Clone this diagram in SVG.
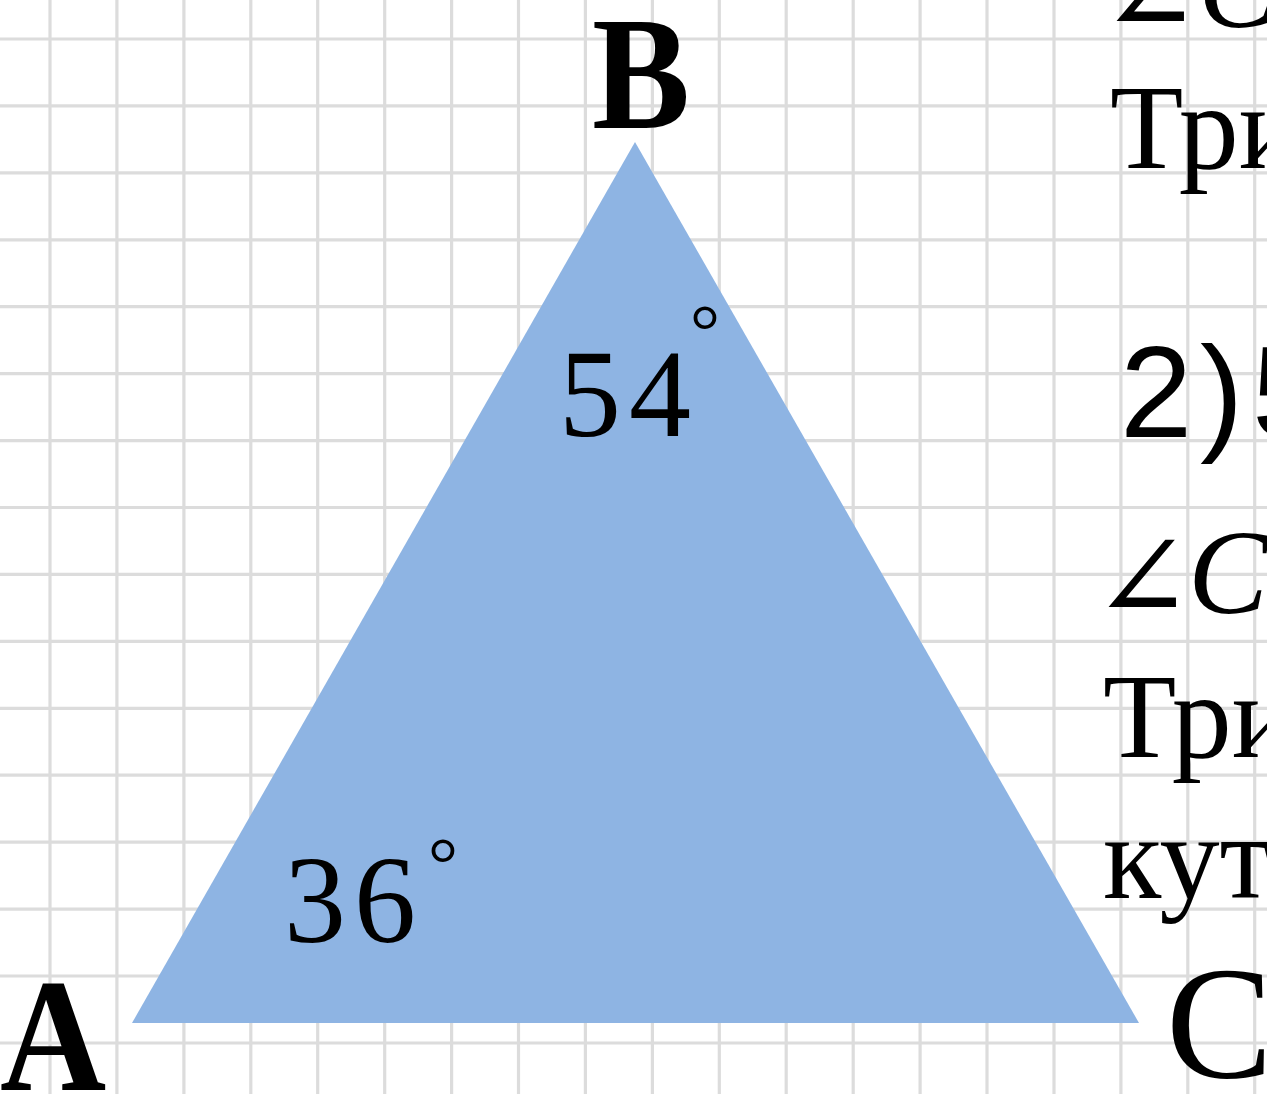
<svg xmlns="http://www.w3.org/2000/svg" width="1267" height="1094" viewBox="0 0 1267 1094">
<style>
.grid line{stroke:#dcdcdc;stroke-width:3.2}
.serif{font-family:"Liberation Serif","DejaVu Serif",serif;fill:#000}
.vert{font-size:160px}
.ang{font-size:124px;letter-spacing:8px}
.deg{font-size:75px}
.txt{font-size:120px}
.sans{font-family:"Liberation Sans","DejaVu Sans",sans-serif;fill:#000}
</style>
<rect width="1267" height="1094" fill="#ffffff"/>
<g class="grid" id="grid">
<line x1="50" y1="0" x2="50" y2="1094"/>
<line x1="116.9" y1="0" x2="116.9" y2="1094"/>
<line x1="183.9" y1="0" x2="183.9" y2="1094"/>
<line x1="250.8" y1="0" x2="250.8" y2="1094"/>
<line x1="317.7" y1="0" x2="317.7" y2="1094"/>
<line x1="384.7" y1="0" x2="384.7" y2="1094"/>
<line x1="451.6" y1="0" x2="451.6" y2="1094"/>
<line x1="518.5" y1="0" x2="518.5" y2="1094"/>
<line x1="585.4" y1="0" x2="585.4" y2="1094"/>
<line x1="652.4" y1="0" x2="652.4" y2="1094"/>
<line x1="719.3" y1="0" x2="719.3" y2="1094"/>
<line x1="786.2" y1="0" x2="786.2" y2="1094"/>
<line x1="853.2" y1="0" x2="853.2" y2="1094"/>
<line x1="920.1" y1="0" x2="920.1" y2="1094"/>
<line x1="987" y1="0" x2="987" y2="1094"/>
<line x1="1054" y1="0" x2="1054" y2="1094"/>
<line x1="1120.9" y1="0" x2="1120.9" y2="1094"/>
<line x1="1187.8" y1="0" x2="1187.8" y2="1094"/>
<line x1="1254.7" y1="0" x2="1254.7" y2="1094"/>
<line x1="0" y1="39" x2="1267" y2="39"/>
<line x1="0" y1="105.9" x2="1267" y2="105.9"/>
<line x1="0" y1="172.9" x2="1267" y2="172.9"/>
<line x1="0" y1="239.8" x2="1267" y2="239.8"/>
<line x1="0" y1="306.7" x2="1267" y2="306.7"/>
<line x1="0" y1="373.7" x2="1267" y2="373.7"/>
<line x1="0" y1="440.6" x2="1267" y2="440.6"/>
<line x1="0" y1="507.5" x2="1267" y2="507.5"/>
<line x1="0" y1="574.4" x2="1267" y2="574.4"/>
<line x1="0" y1="641.4" x2="1267" y2="641.4"/>
<line x1="0" y1="708.3" x2="1267" y2="708.3"/>
<line x1="0" y1="775.2" x2="1267" y2="775.2"/>
<line x1="0" y1="842.2" x2="1267" y2="842.2"/>
<line x1="0" y1="909.1" x2="1267" y2="909.1"/>
<line x1="0" y1="976" x2="1267" y2="976"/>
<line x1="0" y1="1043" x2="1267" y2="1043"/>
</g>
<g id="triangle">
<polygon points="132,1023 635,142 1139,1023" fill="#8eb4e3"/>
</g>
<g id="vertex-labels">
<text class="serif vert" x="592" y="128" font-weight="bold" transform="translate(592 0) scale(0.92 1) translate(-592 0)">B</text>
<text class="serif vert" x="0" y="1090" font-weight="bold" transform="scale(0.92 1)">A</text>
<text class="serif vert" x="1166" y="1077">C</text>
</g>
<g id="angle-labels">
<text class="serif ang" x="559" y="436">54</text>
<text class="serif deg" x="690" y="356">°</text>
<text class="serif ang" x="284" y="942">36</text>
<text class="serif deg" x="428" y="889">°</text>
</g>
<g id="side-text">
<text class="serif txt" y="33"><tspan x="1100">∠</tspan><tspan x="1198" y="27" font-style="italic">C</tspan></text>
<text class="serif txt" x="1110" y="168">Три</text>
<text class="sans" font-size="130" y="437"><tspan x="1120">2</tspan><tspan x="1200">)</tspan><tspan x="1252">5</tspan></text>
<text class="serif txt" y="619"><tspan x="1092">∠</tspan><tspan x="1188" y="613" font-style="italic">C</tspan></text>
<text class="serif txt" x="1103" y="757">Три</text>
<text class="serif txt" x="1103" y="898">кут</text>
</g>
</svg>
